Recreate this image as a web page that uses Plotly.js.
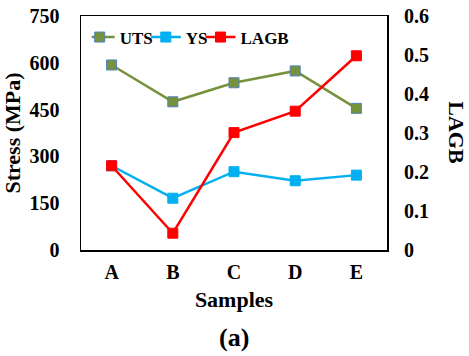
<!DOCTYPE html>
<html><head><meta charset="utf-8">
<script src="https://cdn.plot.ly/plotly-3.0.1.min.js"></script>
<style>html,body{margin:0;padding:0;background:#fff}#c{width:469px;height:356px}</style>
</head><body><div id="c"></div>
<script>
const samples = ['A','B','C','D','E'];
const uts = [593, 475, 536, 574, 454];
const ys = [270, 166, 251, 222, 240];
const lagb = [0.216, 0.043, 0.301, 0.356, 0.498];
const yTicks = [0,150,300,450,600,750];
const y2Ticks = [0,0.1,0.2,0.3,0.4,0.5,0.6];
const y2Labels = ['0','0.1','0.2','0.3','0.4','0.5','0.6'];

const F = 'Liberation Serif, Times New Roman, serif';
const mk = (c, lc) => ({symbol:'square', size:10, color:c, line:{color:lc, width:1}});
const data = [
  {x:samples, y:uts, name:'UTS', mode:'lines+markers', line:{color:'#76923C', width:2.5}, marker:mk('#76923C','#4F81BD')},
  {x:samples, y:ys, name:'YS', mode:'lines+markers', line:{color:'#00B0F0', width:2.5}, marker:mk('#00B0F0','#00B0F0')},
  {x:samples, y:lagb, name:'LAGB', mode:'lines+markers', yaxis:'y2', line:{color:'#FF0000', width:2.5}, marker:mk('#FF0000','#FF0000')}
];
const layout = {
  width:469, height:356,
  margin:{l:81, r:82, t:16, b:106},
  paper_bgcolor:'#fff', plot_bgcolor:'#fff',
  font:{family:F, size:20, color:'#000'},
  showlegend:true,
  legend:{orientation:'h', x:0.035, y:0.985, xanchor:'left', yanchor:'top', itemwidth:30, indentation:-12, tracegroupgap:0,
          font:{family:F, size:17, color:'#000', weight:'bold'}, bgcolor:'rgba(0,0,0,0)'},
  xaxis:{type:'category', range:[-0.5,4.5], showgrid:false, zeroline:false, showline:true, linecolor:'#000', linewidth:1.5, mirror:true,
         ticks:'', tickfont:{family:F, size:20, weight:'bold'}, ticklabelstandoff:3,
         title:{text:'Samples', font:{family:F, size:22, weight:'bold'}, standoff:10}},
  yaxis:{range:[0,750], tickvals:yTicks, showgrid:false, zeroline:false, showline:true, linecolor:'#000', linewidth:1.5, mirror:true,
         ticks:'', tickfont:{family:F, size:20, weight:'bold'}, ticklabelstandoff:16,
         title:{text:'Stress (MPa)', font:{family:F, size:22, weight:'bold'}, standoff:3}},
  yaxis2:{overlaying:'y', side:'right', range:[0,0.6], tickvals:y2Ticks, ticktext:y2Labels, showgrid:false, zeroline:false,
          showline:false, ticks:'', tickfont:{family:F, size:20, weight:'bold'}, ticklabelstandoff:16},
  annotations:[
    {text:'LAGB', xref:'paper', yref:'paper', x:1.228, y:0.5, xanchor:'center', yanchor:'middle', textangle:90, showarrow:false,
     font:{family:F, size:22, weight:'bold', color:'#000'}},
    {text:'(a)', xref:'paper', yref:'paper', x:0.5, y:-0.305, xanchor:'center', yanchor:'top', showarrow:false,
     font:{family:F, size:26, weight:'bold', color:'#000'}}
  ]
};
Plotly.newPlot('c', data, layout, {displayModeBar:false, staticPlot:true});
</script></body></html>
